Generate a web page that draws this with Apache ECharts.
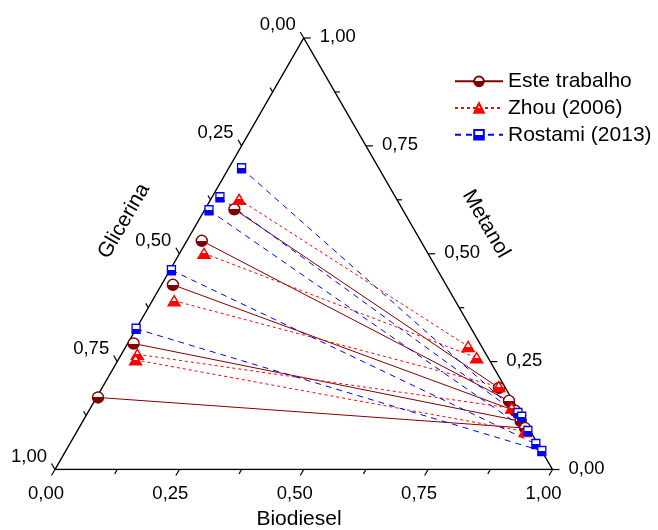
<!DOCTYPE html>
<html>
<head>
<meta charset="utf-8">
<script src="https://cdn.jsdelivr.net/npm/echarts@6/dist/echarts.min.js"></script>
<style>
html, body { margin: 0; padding: 0; background: #fff; }
#main { width: 658px; height: 530px; }
</style>
</head>
<body>
<div id="main"></div>
<script>
// tie lines, each point given as [biodiesel, metanol] mass fractions (glicerina = rest)
var esteGli = [[0.059, 0.603], [0.030, 0.530], [0.023, 0.428], [0.012, 0.292], [0.003, 0.167]];
var esteBio = [[0.798, 0.189], [0.833, 0.159], [0.857, 0.136], [0.880, 0.112], [0.897, 0.096]];
var zhouGli = [[0.057, 0.626], [0.049, 0.501], [0.044, 0.391], [0.032, 0.267], [0.035, 0.254]];
var zhouBio = [[0.688, 0.285], [0.718, 0.259], [0.796, 0.192], [0.847, 0.142], [0.901, 0.088]];
var rostamiGli = [[0.026, 0.698], [0.016, 0.631], [0.009, 0.601], [0.003, 0.462], [0.000, 0.326]];
var rostamiBio = [[0.865, 0.131], [0.877, 0.122], [0.906, 0.089], [0.937, 0.059], [0.957, 0.043]];

var ticks = [0, 0.125, 0.25, 0.375, 0.5, 0.625, 0.75, 0.875, 1];
var tickLabels = ['0,00', '0,25', '0,50', '0,75', '1,00'];
var seriesNames = ['Este trabalho', 'Zhou (2006)', 'Rostami (2013)'];

var H = Math.sqrt(3) / 2;
var FONT = '"Liberation Sans", Arial, sans-serif';

// ternary -> cartesian
function tern(p) {
    return [p[0] + p[1] / 2, p[1] * H];
}

function halfFill(c) {
    return {
        type: 'linear', x: 0, y: 0, x2: 0, y2: 1,
        colorStops: [
            {offset: 0, color: '#fff'}, {offset: 0.5, color: '#fff'},
            {offset: 0.5, color: c}, {offset: 1, color: c}
        ]
    };
}

function tieSeries(name, gli, bio, color, dash, symbol, size) {
    return gli.map(function (p, i) {
        return {
            name: name,
            type: 'line',
            data: [tern(p), tern(bio[i])],
            symbol: symbol,
            symbolSize: size,
            showSymbol: true,
            lineStyle: {color: color, width: 1, type: dash},
            itemStyle: {color: halfFill(color), borderColor: color, borderWidth: 1.4},
            z: 3
        };
    });
}

// axis ticks: [x, y, axis, tickIndex]  axis 0 = Biodiesel, 1 = Glicerina, 2 = Metanol
var tickData = [];
ticks.forEach(function (t, k) {
    tickData.push([t, 0, 0, k]);
    tickData.push([(1 - t) / 2, (1 - t) * H, 1, k]);
    tickData.push([1 - t / 2, t * H, 2, k]);
});

var tickDir = [[-0.5, 0.866], [-0.5, -0.866], [1, 0]];
var labelOff = [[-9, 24.5], [-8, -13], [16, -1]];
var labelAlign = ['center', 'right', 'left'];

var option = {
    animation: false,
    grid: {left: 55, top: 38, width: 497.5, height: 431.5},
    xAxis: {type: 'value', min: 0, max: 1, show: false},
    yAxis: {type: 'value', min: 0, max: H, show: false},
    legend: {
        data: seriesNames,
        orient: 'vertical',
        left: 454,
        top: 68,
        padding: 0,
        itemGap: 0,
        itemWidth: 48,
        itemHeight: 12,
        textStyle: {fontSize: 21, lineHeight: 26.7, color: '#000', fontFamily: FONT}
    },
    graphic: [
        {type: 'text', x: 124, y: 221, rotation: Math.PI / 3,
            style: {text: 'Glicerina', font: '21px ' + FONT, fill: '#000', align: 'center', verticalAlign: 'middle'}},
        {type: 'text', x: 486, y: 224, rotation: -Math.PI / 3,
            style: {text: 'Metanol', font: '21px ' + FONT, fill: '#000', align: 'center', verticalAlign: 'middle'}},
        {type: 'text', x: 299, y: 519,
            style: {text: 'Biodiesel', font: '21px ' + FONT, fill: '#000', align: 'center', verticalAlign: 'middle'}}
    ],
    series: [
        {
            name: 'frame',
            type: 'line',
            data: [[0, 0], [1, 0], [0.5, H], [0, 0]],
            symbol: 'none',
            lineStyle: {color: '#000', width: 1.5},
            silent: true,
            z: 2
        },
        {
            name: 'ticks',
            type: 'custom',
            data: tickData,
            silent: true,
            z: 2,
            renderItem: function (params, api) {
                var p = api.coord([api.value(0), api.value(1)]);
                var ax = api.value(2), k = api.value(3);
                var major = k % 2 === 0;
                var len = major ? 7 : 5;
                var d = tickDir[ax];
                var children = [{
                    type: 'line',
                    shape: {x1: p[0], y1: p[1], x2: p[0] + d[0] * len, y2: p[1] + d[1] * len},
                    style: {stroke: '#000', lineWidth: 1.2}
                }];
                if (major) {
                    children.push({
                        type: 'text',
                        style: {
                            text: tickLabels[k / 2],
                            x: p[0] + labelOff[ax][0],
                            y: p[1] + labelOff[ax][1],
                            align: labelAlign[ax],
                            verticalAlign: 'middle',
                            font: '18.5px ' + FONT,
                            fill: '#000'
                        }
                    });
                }
                return {type: 'group', children: children};
            }
        }
    ]
        .concat(tieSeries(seriesNames[0], esteGli, esteBio, '#800000', 'solid', 'circle', 11))
        .concat(tieSeries(seriesNames[1], zhouGli, zhouBio, '#ff0000', [3, 3], 'triangle', [12, 10]))
        .concat(tieSeries(seriesNames[2], rostamiGli, rostamiBio, '#0000ff', [6, 5], 'rect', [8, 9]))
};

echarts.init(document.getElementById('main')).setOption(option);
</script>
</body>
</html>
